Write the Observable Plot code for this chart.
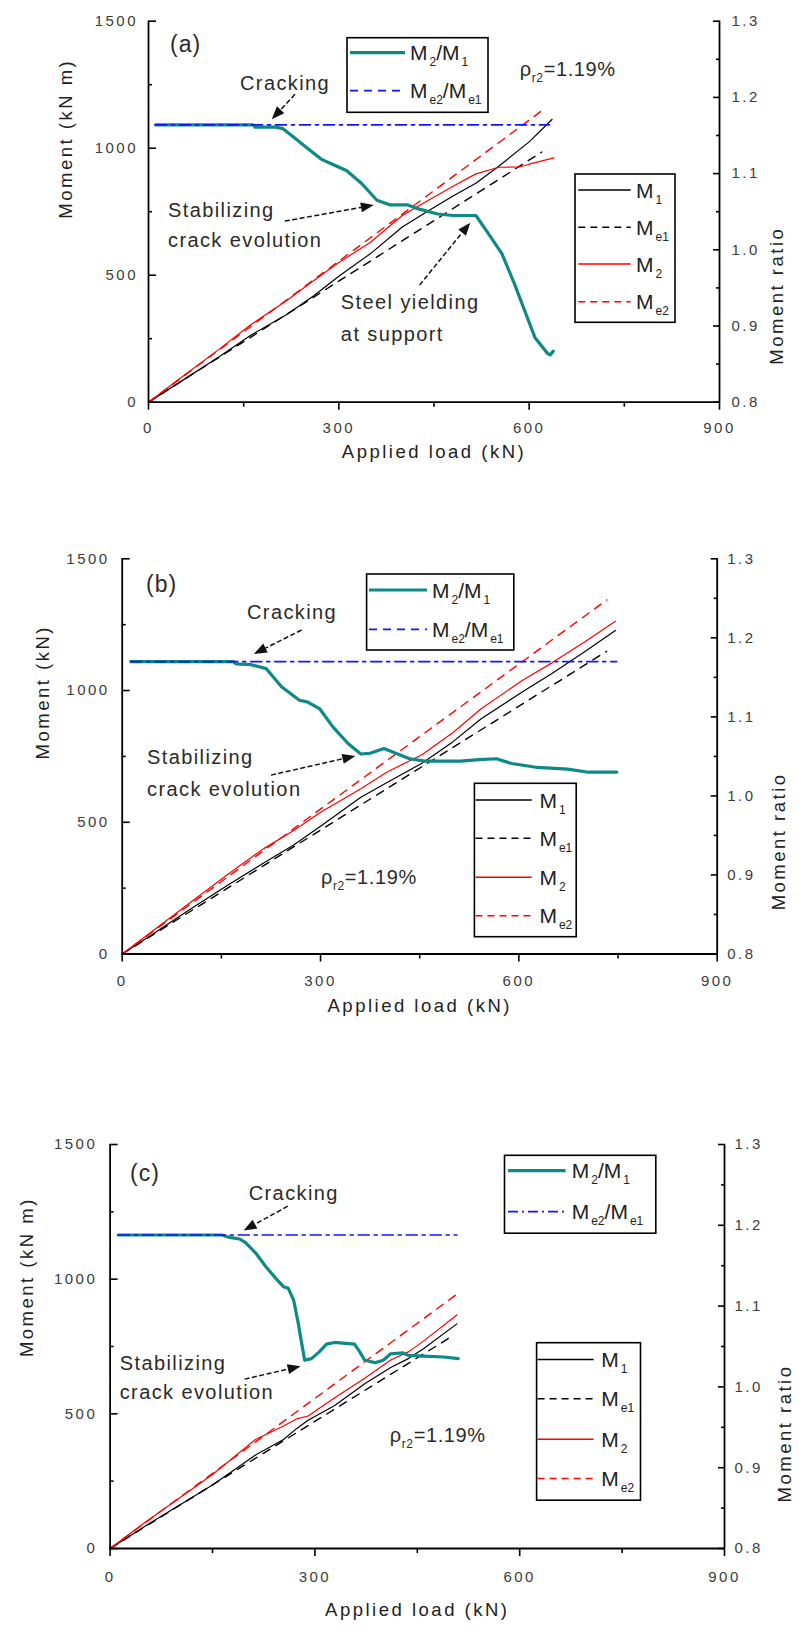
<!DOCTYPE html>
<html>
<head>
<meta charset="utf-8">
<script src="https://cdn.jsdelivr.net/npm/d3@7"></script>
<script src="https://cdn.jsdelivr.net/npm/@observablehq/plot@0.6"></script>
<style>
  html, body { margin: 0; padding: 0; background: #fff; }
  #root { position: relative; width: 799px; height: 1635px; overflow: hidden; background: #fff; }
  #root svg { position: absolute; left: 0; }
</style>
</head>
<body>
<div id="root"></div>
<script>
// ---------------- tick values / labels ----------------
const xTicks = [0, 300, 600, 900];
const xMinor = [150, 450, 750];
const yTicks = [0, 500, 1000, 1500];
const yMinor = [250, 750, 1250];
const ratioTicks = [0.8, 0.9, 1.0, 1.1, 1.2, 1.3];
const ratioMinor = [0.85, 0.95, 1.05, 1.15, 1.25];
const xTitle = "Applied load (kN)";
const rightTitle = "Moment ratio";
const yTitles = {a: "Moment (kN m)", b: "Moment (kN)", c: "Moment (kN m)"};
const panelTags = {a: "(a)", b: "(b)", c: "(c)"};

// ---------------- panel (a) data: [load kN, value] ----------------
const aM1 = [[0,0],[50,80],[112,180],[160,262],[218,345],[260,418],[300,496],[350,585],[400,690],[440,752],[480,812],[516,862],[550,925],[600,1025],[636,1113]];
const aMe1 = [[0,0],[620,985]];
const aM2 = [[0,0],[50,94],[112,210],[160,303],[218,400],[260,478],[300,550],[350,630],[400,735],[440,793],[480,850],[516,899],[552,925],[585,926],[600,937],[639,962]];
const aMe2 = [[0,0],[624,1155]];
const aRatio = [[11,1.164],[165,1.164],[168,1.161],[200,1.161],[212,1.159],[230,1.147],[248,1.135],[272,1.119],[288,1.113],[312,1.104],[336,1.087],[360,1.065],[380,1.059],[408,1.059],[424,1.054],[456,1.047],[480,1.045],[516,1.045],[536,1.021],[557,0.995],[577,0.955],[593,0.920],[609,0.885],[629,0.864],[633,0.862],[638,0.867]];
const aRatioE = [[11,1.164],[632,1.164]];

// ---------------- panel (b) data ----------------
const bM1 = [[0,0],[50,82],[100,165],[160,262],[214,345],[260,415],[300,485],[361,595],[400,650],[454,725],[500,805],[543,893],[605,994],[650,1065],[700,1148],[746,1228]];
const bMe1 = [[0,0],[733,1149]];
const bM2 = [[0,0],[50,95],[100,190],[160,303],[214,400],[260,470],[300,538],[361,627],[400,690],[454,757],[500,840],[543,931],[605,1038],[650,1105],[700,1185],[746,1263]];
const bMe2 = [[0,0],[733,1344]];
const bRatio = [[13,1.170],[168,1.170],[172,1.167],[195,1.166],[218,1.161],[241,1.138],[268,1.121],[280,1.119],[299,1.110],[319,1.087],[342,1.066],[361,1.053],[375,1.054],[396,1.060],[411,1.055],[435,1.047],[458,1.044],[512,1.044],[540,1.046],[566,1.047],[589,1.041],[628,1.036],[674,1.034],[705,1.030],[748,1.030]];
const bRatioE = [[13,1.170],[748,1.170]];

// ---------------- panel (c) data ----------------
const cM1 = [[0,0],[50,81],[100,159],[150,236],[213,347],[254,405],[273,445],[290,476],[329,531],[373,612],[411,672],[437,705],[459,742],[508,834]];
const cMe1 = [[0,0],[504,793]];
const cM2 = [[0,0],[50,95],[100,185],[150,275],[213,405],[254,455],[273,481],[290,492],[329,560],[373,632],[411,700],[437,730],[459,770],[508,867]];
const cMe2 = [[0,0],[508,944]];
const cRatio = [[12,1.188],[164,1.188],[175,1.185],[190,1.183],[198,1.179],[213,1.166],[228,1.149],[243,1.134],[254,1.124],[261,1.122],[269,1.107],[276,1.077],[281,1.052],[285,1.033],[295,1.035],[306,1.043],[317,1.053],[329,1.055],[358,1.053],[366,1.043],[373,1.033],[388,1.030],[400,1.033],[411,1.041],[429,1.042],[437,1.039],[459,1.038],[489,1.037],[510,1.035]];
const cRatioE = [[12,1.188],[508,1.188]];

// ---------------- annotations (data coordinates: load, moment) ----------------
const aNotes = [["Cracking",145,1228],["Stabilizing",31.5,727],["crack evolution",31.5,608],["Steel yielding",304,365],["at support",304,238]];
const aArrows = [[231.7,1210,195,1112],[215.6,711,356,774],[428,459,508,705]];
const aRho = [586,1282];
const bNotes = [["Cracking",189.6,1270],["Stabilizing",38.3,719],["crack evolution",38.3,598]];
const bArrows = [[272,1228,200,1137],[225.8,677,353.4,750]];
const bRho = [301.4,264];
const cNotes = [["Cracking",203.8,1293],["Stabilizing",14.8,661],["crack evolution",14.8,554]];
const cArrows = [[261,1269,196.3,1179],[197.8,627,279.8,675]];
const cRho = [410.4,393];
const tagPos = {a: [34.7,1377], b: [36.8,1372], c: [29.9,1363]};

// ---------------- layout (pixels) ----------------
const FONT = '"Liberation Sans", Arial, Helvetica, sans-serif';
const TEAL = "#0e8a86";
const layout = {
  a: {top: 0, height: 480, left: 148, right: 719, frameTop: 20.7, frameBottom: 401.7,
      xPad: 20, yPad: 10.5, rPad: 12, xTitleDy: 56, yTitleDx: -82, yTitleDy: 7, rTitleDx: 58, rTitleDy: 15,
      leg1: {x: 347, y: 37.7, w: 141, h: 74.6, rows: [52.7, 90.7], l0: 350, l1: 405, tx: 410},
      leg2: {x: 575, y: 174, w: 100, h: 148.3, rows: [190, 227.3, 264, 301.7], l0: 578.3, l1: 630.7, tx: 636},
      leg1Dash: "8,6"},
  b: {top: 480, height: 580, left: 121.7, right: 716.7, frameTop: 558.3, frameBottom: 953.5,
      xPad: 21.5, yPad: 12.5, rPad: 10, xTitleDy: 58, yTitleDx: -79, yTitleDy: 3, rTitleDx: 62, rTitleDy: 16,
      leg1: {x: 366.6, y: 574, w: 147.2, h: 76, rows: [590, 629.3], l0: 369, l1: 427, tx: 432},
      leg2: {x: 474.4, y: 783.3, w: 101.8, h: 153.4, rows: [800, 838.3, 877.3, 915.7], l0: 475.5, l1: 531.7, tx: 539.4},
      leg1Dash: "8,6"},
  c: {top: 1060, height: 575, left: 109.6, right: 724, frameTop: 1144, frameBottom: 1548,
      xPad: 23, yPad: 12.8, rPad: 10, xTitleDy: 67, yTitleDx: -82.8, yTitleDy: 10.6, rTitleDx: 61, rTitleDy: 18,
      leg1: {x: 504.5, y: 1155.3, w: 151.3, h: 77.9, rows: [1170.6, 1211.7], l0: 508, l1: 565.6, tx: 571.7},
      leg2: {x: 536.6, y: 1342.7, w: 103.9, h: 157.5, rows: [1359.4, 1398.7, 1439.3, 1478.6], l0: 537.6, l1: 593.6, tx: 601.3},
      leg1Dash: "10,4,2,4"}
};

const panels = {
  a: {m1: aM1, me1: aMe1, m2: aM2, me2: aMe2, ratio: aRatio, ratioE: aRatioE, notes: aNotes, arrows: aArrows, rho: aRho},
  b: {m1: bM1, me1: bMe1, m2: bM2, me2: bMe2, ratio: bRatio, ratioE: bRatioE, notes: bNotes, arrows: bArrows, rho: bRho},
  c: {m1: cM1, me1: cMe1, m2: cM2, me2: cMe2, ratio: cRatio, ratioE: cRatioE, notes: cNotes, arrows: cArrows, rho: cRho}
};

const momentMax = yTicks[yTicks.length - 1];
const rLo = ratioTicks[0], rHi = ratioTicks[ratioTicks.length - 1];
const toM = r => (r - rLo) / (rHi - rLo) * momentMax;      // right axis -> left scale
const toR = m => rLo + m / momentMax * (rHi - rLo);

function renderPanel(key) {
  const L = layout[key], D = panels[key];
  const X = d => d[0], Y = d => d[1], YR = d => toM(d[1]);
  const tickText = {fill: "#3c3c3c", label: null};
  const plot = Plot.plot({
    width: 799, height: L.height,
    marginLeft: L.left, marginRight: 799 - L.right,
    marginTop: L.frameTop - L.top, marginBottom: L.top + L.height - L.frameBottom,
    x: {domain: [0, 900]},
    y: {domain: [0, momentMax]},
    style: {fontFamily: FONT, fontSize: "15px", background: "transparent", color: "#000", letterSpacing: "2.5px", overflow: "visible"},
    marks: [
      Plot.line(D.m1, {x: X, y: Y, stroke: "#000", strokeWidth: 1.2}),
      Plot.line(D.me1, {x: X, y: Y, stroke: "#000", strokeWidth: 1.4, strokeDasharray: "8,7"}),
      Plot.line(D.m2, {x: X, y: Y, stroke: "#ff0000", strokeWidth: 1.2}),
      Plot.line(D.me2, {x: X, y: Y, stroke: "#ff0000", strokeWidth: 1.4, strokeDasharray: "8,7"}),
      Plot.line(D.ratio, {x: X, y: YR, stroke: TEAL, strokeWidth: 3.2}),
      Plot.line(D.ratioE, {x: X, y: YR, stroke: "#1414ff", strokeWidth: 1.7, strokeDasharray: "11,5,3,5"}),
      Plot.ruleY([0], {stroke: "#000", strokeWidth: 1.8}),
      Plot.ruleX([0, 900], {stroke: "#000", strokeWidth: 1.8}),
      Plot.axisX(xTicks, {tickSize: 8, fill: "none", label: null, strokeWidth: 1.6}),
      Plot.axisX(xMinor, {tickSize: 5, fill: "none", label: null, strokeWidth: 1.6}),
      Plot.axisX(xTicks, {tickSize: 0, tickPadding: L.xPad, tickFormat: d => String(d), ...tickText}),
      Plot.axisY(yTicks, {anchor: "left", tickSize: -8, fill: "none", label: null, strokeWidth: 1.6}),
      Plot.axisY(yMinor, {anchor: "left", tickSize: -4, fill: "none", label: null, strokeWidth: 1.6}),
      Plot.axisY(yTicks, {anchor: "left", tickSize: 0, tickPadding: L.yPad, tickFormat: d => String(d), ...tickText}),
      Plot.axisY(ratioTicks.map(toM), {anchor: "right", tickSize: -7, fill: "none", label: null, strokeWidth: 1.6}),
      Plot.axisY(ratioMinor.map(toM), {anchor: "right", tickSize: -4, fill: "none", label: null, strokeWidth: 1.6}),
      Plot.axisY(ratioTicks.map(toM), {anchor: "right", tickSize: 0, tickPadding: L.rPad, tickFormat: m => toR(m).toFixed(1), ...tickText}),
      Plot.text([xTitle], {frameAnchor: "bottom", dy: L.xTitleDy, fontSize: 18.5, fill: "#222"}),
      Plot.text([yTitles[key]], {frameAnchor: "left", rotate: -90, dx: L.yTitleDx, dy: L.yTitleDy, fontSize: 18.5, fill: "#222"}),
      Plot.text([rightTitle], {frameAnchor: "right", rotate: -90, dx: L.rTitleDx, dy: L.rTitleDy, fontSize: 18.5, fill: "#222"})
    ]
  });
  plot.style.top = L.top + "px";
  document.getElementById("root").appendChild(plot);

  const svg = d3.select(plot);
  const sx = plot.scale("x").apply, sy = plot.scale("y").apply;
  const g = svg.append("g").attr("font-family", FONT).attr("text-anchor", "start");

  // arrows
  D.arrows.forEach(([x1, y1, x2, y2]) => {
    const X1 = sx(x1), Y1 = sy(y1), X2 = sx(x2), Y2 = sy(y2);
    const ang = Math.atan2(Y2 - Y1, X2 - X1), len = 13, w = 5;
    const bx = X2 - len * Math.cos(ang), by = Y2 - len * Math.sin(ang);
    const px = -Math.sin(ang) * w, py = Math.cos(ang) * w;
    g.append("line").attr("x1", X1).attr("y1", Y1).attr("x2", bx).attr("y2", by)
      .attr("stroke", "#111").attr("stroke-width", 1.5).attr("stroke-dasharray", "5,2.5");
    g.append("polygon").attr("points", `${X2},${Y2} ${bx + px},${by + py} ${bx - px},${by - py}`).attr("fill", "#111");
  });

  // annotation text
  D.notes.forEach(([t, x, y]) => {
    g.append("text").attr("x", sx(x)).attr("y", sy(y)).attr("font-size", 20)
      .style("letter-spacing", "1.4px").attr("fill", "#2a2a2a").text(t);
  });
  const [tx, ty] = tagPos[key];
  g.append("text").attr("x", sx(tx)).attr("y", sy(ty)).attr("font-size", 23)
    .style("letter-spacing", "1px").attr("fill", "#2a2a2a").text(panelTags[key]);
  const rho = g.append("text").attr("x", sx(D.rho[0])).attr("y", sy(D.rho[1])).attr("font-size", 20)
    .style("letter-spacing", "0.6px").attr("fill", "#2a2a2a");
  rho.append("tspan").text("ρ");
  rho.append("tspan").attr("font-size", 12).attr("dy", 6).text("r2");
  rho.append("tspan").attr("dy", -6).text("=1.19%");

  // legends
  const oy = L.top;
  function mLabel(x, y, parts) {
    const t = g.append("text").attr("x", x).attr("y", y + 7.5 - oy).attr("font-size", 21)
      .style("letter-spacing", "0px").attr("fill", "#222");
    let down = false;
    parts.forEach(([s, sub]) => {
      const sp = t.append("tspan").text(s).attr("font-size", sub ? 12 : 21);
      if (sub && !down) { sp.attr("dy", 6).attr("dx", 2); down = true; }
      else if (!sub && down) { sp.attr("dy", -6); down = false; }
    });
  }
  const L1 = L.leg1;
  g.append("rect").attr("x", L1.x).attr("y", L1.y - oy).attr("width", L1.w).attr("height", L1.h)
    .attr("fill", "#fff").attr("stroke", "#000").attr("stroke-width", 1.6);
  g.append("line").attr("x1", L1.l0).attr("x2", L1.l1).attr("y1", L1.rows[0] - oy).attr("y2", L1.rows[0] - oy)
    .attr("stroke", TEAL).attr("stroke-width", 3.2);
  g.append("line").attr("x1", L1.l0).attr("x2", L1.l1).attr("y1", L1.rows[1] - oy).attr("y2", L1.rows[1] - oy)
    .attr("stroke", "#1414ff").attr("stroke-width", 1.7).attr("stroke-dasharray", L.leg1Dash);
  mLabel(L1.tx, L1.rows[0], [["M", false], ["2", true], ["/M", false], ["1", true]]);
  mLabel(L1.tx, L1.rows[1], [["M", false], ["e2", true], ["/M", false], ["e1", true]]);

  const L2 = L.leg2;
  g.append("rect").attr("x", L2.x).attr("y", L2.y - oy).attr("width", L2.w).attr("height", L2.h)
    .attr("fill", "#fff").attr("stroke", "#000").attr("stroke-width", 1.6);
  const legRows = [["#000", null, "1"], ["#000", "7,5", "e1"], ["#ff0000", null, "2"], ["#ff0000", "7,5", "e2"]];
  legRows.forEach(([col, dash, sub], i) => {
    const ln = g.append("line").attr("x1", L2.l0).attr("x2", L2.l1).attr("y1", L2.rows[i] - oy).attr("y2", L2.rows[i] - oy)
      .attr("stroke", col).attr("stroke-width", 1.5);
    if (dash) ln.attr("stroke-dasharray", dash);
    mLabel(L2.tx, L2.rows[i], [["M", false], [sub, true]]);
  });
}

["a", "b", "c"].forEach(renderPanel);
</script>
</body>
</html>
